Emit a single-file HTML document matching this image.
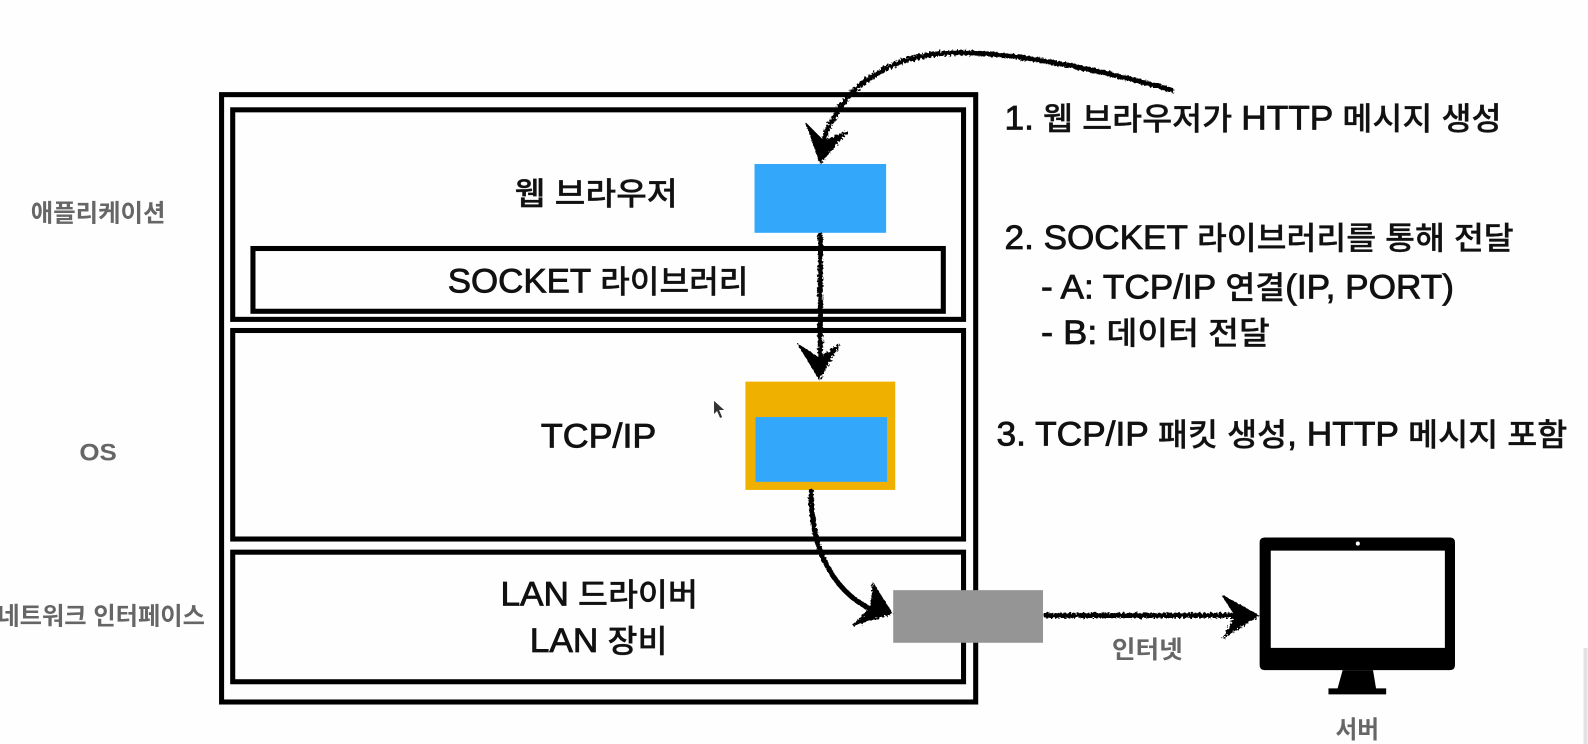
<!DOCTYPE html>
<html><head><meta charset="utf-8"><style>
html,body{margin:0;padding:0;background:#fff;width:1588px;height:744px;overflow:hidden}
svg{display:block}
text{font-family:"Liberation Sans","Noto Sans CJK KR",sans-serif;font-weight:500;fill:#111}
.g{fill:#666;font-size:24px;font-weight:700}
.m{font-size:31px;stroke:#111;stroke-width:.3px}
.b{font-weight:400;font-size:33.500px;stroke:#111;stroke-width:.8px}
</style></head><body>
<svg width="1588" height="744" viewBox="0 0 1568 735" xmlns="http://www.w3.org/2000/svg">
<defs><filter id="r" x="-10%" y="-10%" width="120%" height="120%"><feTurbulence type="fractalNoise" baseFrequency="0.45" numOctaves="2" seed="4"/><feDisplacementMap in="SourceGraphic" scale="5"/></filter></defs>
<rect width="1568" height="735" fill="#fefefe"/>
<g fill="none" stroke="#000" stroke-width="5">
<rect x="218.500" y="93.500" width="745" height="600"/>
<rect x="229.500" y="108.500" width="722" height="207"/>
<rect x="249.500" y="245.500" width="682" height="62"/>
<rect x="229.500" y="326.500" width="722" height="206"/>
<rect x="229.500" y="545.500" width="722" height="128"/>
</g>
<rect x="745" y="162" width="130" height="68" fill="#33a8fb"/>
<rect x="736" y="377" width="148" height="107" fill="#efb000"/>
<rect x="746" y="412" width="130" height="64" fill="#33a8fb"/>
<rect x="882" y="583" width="148" height="52" fill="#959595"/>
<polygon points="705,396 705,409 708,406 711,413 713,412 710,405 715,405" fill="#333"/>
<g filter="url(#r)" fill="#000" stroke="#000">
<g fill="none" stroke-width="5" stroke-linecap="round">
<path d="M1157 89C1090 70 1010 53 950 52C900 52 870 66 845 88C830 102 818 122 812 142"/>
<path d="M810 232L810 358"/>
<path d="M801 485C800 545 825 590 870 606"/>
<path d="M1033 608L1225 608"/>
</g>
<polygon stroke-width="1" points="810,161 796,122 813,139 837,130"/>
<polygon stroke-width="1" points="809,375 788,340 809,354 829,340"/>
<polygon stroke-width="1" points="881,606 862,576 860,600 842,618"/>
<polygon stroke-width="1" points="1243,608 1207,588 1220,608 1208,630"/>
</g>
<text x="992" y="128" class="m" textLength="491" lengthAdjust="spacingAndGlyphs"><tspan class="b">1.</tspan> 웹 브라우저가 <tspan class="b">HTTP</tspan> 메시지 생성</text>
<text x="992" y="246" class="m" textLength="503" lengthAdjust="spacingAndGlyphs"><tspan class="b">2. SOCKET</tspan> 라이브러리를 통해 전달</text>
<text x="1028" y="295" class="m" textLength="408" lengthAdjust="spacingAndGlyphs"><tspan class="b">- A: TCP/IP</tspan> 연결<tspan class="b">(IP, PORT)</tspan></text>
<text x="1028" y="340" class="m" textLength="226" lengthAdjust="spacingAndGlyphs"><tspan class="b">- B:</tspan> 데이터 전달</text>
<text x="984" y="440" class="m" textLength="564" lengthAdjust="spacingAndGlyphs"><tspan class="b">3. TCP/IP</tspan> 패킷 생성<tspan class="b">, HTTP</tspan> 메시지 포함</text>
<text x="508" y="202" class="m" textLength="161" lengthAdjust="spacingAndGlyphs">웹 브라우저</text>
<text x="442" y="289" class="m" textLength="297" lengthAdjust="spacingAndGlyphs"><tspan class="b">SOCKET</tspan> 라이브러리</text>
<text x="534" y="442" class="m" textLength="114" lengthAdjust="spacingAndGlyphs"><tspan class="b">TCP/IP</tspan></text>
<text x="494" y="598" class="m" textLength="195" lengthAdjust="spacingAndGlyphs"><tspan class="b">LAN</tspan> 드라이버</text>
<text x="523" y="644" class="m" textLength="136" lengthAdjust="spacingAndGlyphs"><tspan class="b">LAN</tspan> 장비</text>
<text x="30" y="219" class="g" textLength="133" lengthAdjust="spacingAndGlyphs">애플리케이션</text>
<text x="78" y="455" class="g" textLength="37" lengthAdjust="spacingAndGlyphs">OS</text>
<text x="-3" y="617" class="g" textLength="205" lengthAdjust="spacingAndGlyphs">네트워크 인터페이스</text>
<text x="1098" y="650" class="g" textLength="70" lengthAdjust="spacingAndGlyphs">인터넷</text>
<text x="1319" y="729" class="g" textLength="43" lengthAdjust="spacingAndGlyphs">서버</text>
<path fill-rule="evenodd" d="M1249 531H1432Q1437 531 1437 536V657Q1437 662 1432 662H1249Q1244 662 1244 657V536Q1244 531 1249 531ZM1255 544V640H1427V544Z" fill="#000"/>
<circle cx="1341" cy="537" r="2" fill="#fff"/>
<polygon points="1326,662 1356,662 1359,680 1369,680 1369,686 1312,686 1312,680 1321,680" fill="#000"/>
<rect x="1564" y="640" width="4" height="95" fill="#e2e2e2"/>
</svg>
</body></html>
